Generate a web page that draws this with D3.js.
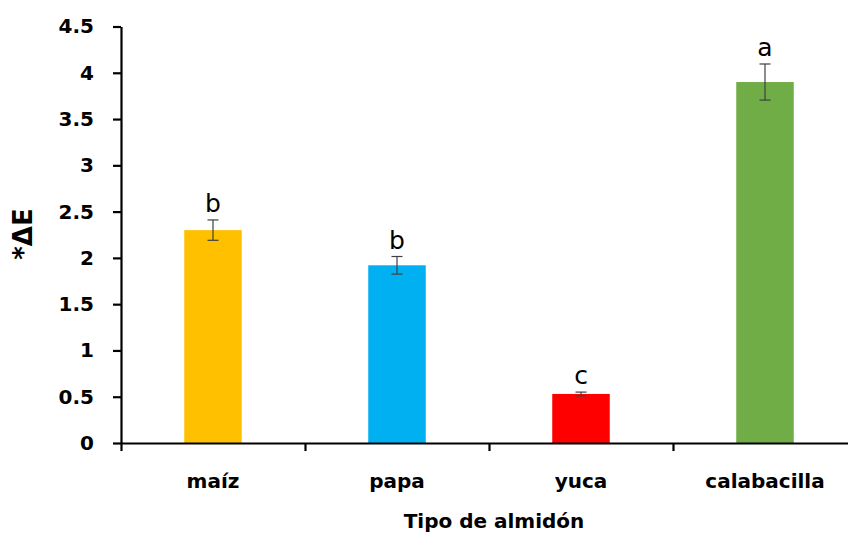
<!DOCTYPE html>
<html>
<head>
<meta charset="utf-8">
<script src="https://cdn.jsdelivr.net/npm/d3@7/dist/d3.min.js"></script>
<style>
  html, body { margin: 0; padding: 0; background: #fff; }
  svg { display: block; }
  text { font-family: "DejaVu Sans", sans-serif; fill: #000; }
</style>
</head>
<body>
<svg id="chart" width="848" height="533"></svg>
<script>
// Colour difference (*ΔE) by starch type
const categories = ["maíz", "papa", "yuca", "calabacilla"];
const values = [2.30, 1.92, 0.53, 3.90];
const errors = [0.11, 0.095, 0.02, 0.195];
const groupLetters = ["b", "b", "c", "a"];
const barColors = ["#FFC000", "#00B0F0", "#FF0000", "#70AD47"];
const yTicks = [0, 0.5, 1, 1.5, 2, 2.5, 3, 3.5, 4, 4.5];
const yLabel = "*ΔE";
const xLabel = "Tipo de almidón";

const svg = d3.select("#chart");
const plotLeft = 121, plotRight = 857, plotBottom = 443, plotTop = 26.5;

const y = d3.scaleLinear().domain([0, 4.5]).range([plotBottom, plotTop]);
const x = d3.scaleBand().domain(categories).range([plotLeft, plotRight]).padding(0);
const barW = x.step() * 0.3125;
// category boundaries for the tick marks along the bottom axis
const xEdges = d3.scaleLinear().domain([0, categories.length]).range([plotLeft, plotRight]);

const data = categories.map((c, i) => ({
  cat: c, v: values[i], e: errors[i], letter: groupLetters[i], color: barColors[i]
}));

// bars
svg.append("g").selectAll("rect").data(data).join("rect")
  .attr("x", d => x(d.cat) + (x.step() - barW) / 2)
  .attr("width", barW)
  .attr("y", d => y(d.v))
  .attr("height", d => y(0) - y(d.v))
  .attr("fill", d => d.color);

// error bars
const eb = svg.append("g").attr("stroke", "#404040").attr("stroke-width", 1.2);
data.forEach(d => {
  const cx = x(d.cat) + x.step() / 2;
  const g = eb.append("g");
  g.append("line").attr("x1", cx).attr("x2", cx).attr("y1", y(d.v + d.e)).attr("y2", y(d.v - d.e));
  g.append("line").attr("x1", cx - 5.5).attr("x2", cx + 5.5).attr("y1", y(d.v + d.e)).attr("y2", y(d.v + d.e));
  g.append("line").attr("x1", cx - 5.5).attr("x2", cx + 5.5).attr("y1", y(d.v - d.e)).attr("y2", y(d.v - d.e));
});

// significance letters
svg.append("g").selectAll("text").data(data).join("text")
  .attr("x", d => x(d.cat) + x.step() / 2)
  .attr("y", d => y(d.v + d.e) - 8)
  .attr("text-anchor", "middle")
  .style("font-size", "25px")
  .text(d => d.letter);

// y axis
const yAxis = svg.append("g")
  .attr("transform", `translate(${plotLeft},0)`)
  .call(d3.axisLeft(y).tickValues(yTicks).tickSize(8).tickSizeOuter(0).tickPadding(19)
    .tickFormat(d => String(d)));
yAxis.select(".domain").attr("stroke-width", 2.2);
yAxis.selectAll(".tick line").attr("stroke-width", 2.2);
yAxis.selectAll(".tick text")
  .style("font-size", "20px").style("font-weight", "bold")
  .style("font-family", "'DejaVu Sans', sans-serif").attr("fill", "#000");

// x axis with ticks between categories
const xAxis = svg.append("g")
  .attr("transform", `translate(0,${plotBottom})`)
  .call(d3.axisBottom(xEdges).tickValues(d3.range(categories.length + 1)).tickSize(8)
    .tickSizeOuter(0).tickFormat(""));
xAxis.select(".domain").attr("stroke-width", 2.2);
xAxis.selectAll(".tick line").attr("stroke-width", 2.2);

// category labels
svg.append("g").selectAll("text").data(categories).join("text")
  .attr("x", d => x(d) + x.step() / 2)
  .attr("y", 488)
  .attr("text-anchor", "middle")
  .style("font-size", "20px").style("font-weight", "bold")
  .text(d => d);

// axis titles
svg.append("text")
  .attr("x", 494).attr("y", 528)
  .attr("text-anchor", "middle")
  .style("font-size", "20px").style("font-weight", "bold")
  .text(xLabel);

svg.append("text")
  .attr("transform", "translate(32,234) rotate(-90)")
  .attr("text-anchor", "middle")
  .style("font-size", "26px").style("font-weight", "bold")
  .text(yLabel);
</script>
</body>
</html>
